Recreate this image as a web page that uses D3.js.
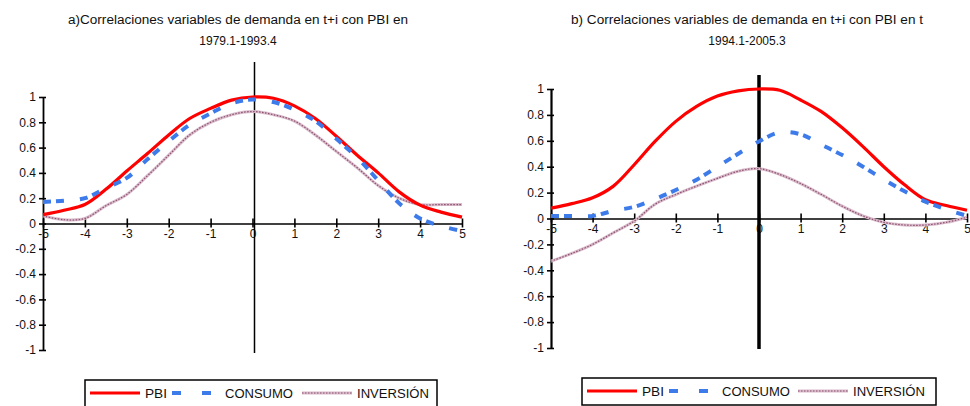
<!DOCTYPE html>
<html><head><meta charset="utf-8">
<script src="https://cdn.jsdelivr.net/npm/d3@7"></script>
<style>body{margin:0;background:#fff}svg{display:block}text{font-family:"Liberation Sans Narrow","Liberation Sans",Arial,sans-serif;fill:#111}</style>
</head><body><svg id="c" width="970" height="406"></svg>
<script>
const lags = [-5,-4.5,-4,-3.5,-3,-2.5,-2,-1.5,-1,-0.5,0,0.5,1,1.5,2,2.5,3,3.5,4,4.5,5];
const xTicks = [-5,-4,-3,-2,-1,0,1,2,3,4,5];
const yTicks = [1,0.8,0.6,0.4,0.2,0,-0.2,-0.4,-0.6,-0.8,-1];
const seriesNames = ["PBI","CONSUMO","INVERSIÓN"];

const titleA = ["a)Correlaciones variables de demanda en t+i con PBI en", "1979.1-1993.4"];
const pbiA       = [0.07,0.105,0.15,0.27,0.415,0.555,0.70,0.83,0.91,0.975,1.0,0.99,0.93,0.83,0.69,0.54,0.40,0.25,0.145,0.09,0.05];
const consumoA   = [0.17,0.18,0.20,0.28,0.36,0.51,0.65,0.78,0.87,0.95,0.98,0.96,0.90,0.81,0.67,0.52,0.34,0.16,0.04,-0.02,-0.06];
const inversionA = [0.06,0.03,0.04,0.14,0.23,0.38,0.54,0.70,0.80,0.86,0.885,0.86,0.81,0.70,0.57,0.44,0.30,0.20,0.15,0.15,0.15];

const titleB = ["b) Correlaciones variables de demanda en t+i con PBI en t", "1994.1-2005.3"];
const pbiB       = [0.08,0.115,0.16,0.25,0.415,0.595,0.75,0.865,0.945,0.985,1.0,0.99,0.915,0.825,0.70,0.555,0.40,0.26,0.145,0.10,0.064];
const consumoB   = [0.02,0.02,0.02,0.06,0.09,0.15,0.22,0.30,0.40,0.50,0.595,0.665,0.65,0.57,0.49,0.40,0.30,0.21,0.13,0.07,0.02];
const inversionB = [-0.33,-0.27,-0.2,-0.11,-0.02,0.11,0.185,0.25,0.31,0.365,0.385,0.34,0.27,0.185,0.095,0.02,-0.03,-0.05,-0.05,-0.03,0.01];

const svg = d3.select("#c");
svg.append("rect").attr("width",970).attr("height",406).attr("fill","#fff");
const fmt = d => String(d);

function panel(cfg){
  const g = svg.append("g");
  const x = d3.scaleLinear().domain([-5,5]).range([cfg.x0,cfg.x1]);
  const y = d3.scaleLinear().domain([-1,1]).range([cfg.yb,cfg.yt]);
  cfg.title.forEach((t,i)=>{
    const tt = g.append("text").attr("x",cfg.tc).attr("y",cfg.ty+i*21).attr("text-anchor","middle")
      .attr("font-size",12).text(t);
    if(i===0) tt.attr("textLength",cfg.tw).attr("lengthAdjust","spacingAndGlyphs");
  });
  const ya = g.append("g").attr("transform",`translate(${cfg.x0},0)`)
    .call(d3.axisLeft(y).tickValues(yTicks).tickFormat(fmt).tickSize(7).tickSizeOuter(0));
  ya.select(".domain").attr("stroke","#000").attr("stroke-width",cfg.yw);
  ya.selectAll(".tick line").attr("x2",3).attr("x1",-4).attr("stroke","#000").attr("stroke-width",1.6);
  ya.selectAll(".tick text").attr("x",-7).attr("font-size",12).attr("fill","#111")
    .attr("font-family",'"Liberation Sans",Arial,sans-serif');
  const xa = g.append("g").attr("transform",`translate(0,${y(0)})`)
    .call(d3.axisBottom(x).tickValues(xTicks).tickSize(4).tickSizeOuter(0).tickFormat(fmt));
  xa.select(".domain").attr("stroke","#000").attr("stroke-width",1.6);
  xa.selectAll(".tick line").attr("y1",-5).attr("y2",4).attr("stroke","#000").attr("stroke-width",1.6);
  xa.selectAll(".tick text").attr("y",cfg.xly).attr("dy",0).attr("font-size",12).attr("fill","#111")
    .attr("font-family",'"Liberation Sans",Arial,sans-serif');
  g.append("line").attr("x1",x(0)+cfg.zoff).attr("x2",x(0)+cfg.zoff).attr("y1",cfg.zt).attr("y2",cfg.zb)
    .attr("stroke","#000").attr("stroke-width",cfg.zw);
  const line = d3.line().x((d,i)=>x(lags[i])).y(d=>y(d)).curve(d3.curveCatmullRom.alpha(0.5));
  g.append("path").attr("d",line(cfg.inv)).attr("fill","none").attr("stroke","#d9bccb").attr("stroke-width",3);
  g.append("path").attr("d",line(cfg.inv)).attr("fill","none").attr("stroke","#8e4f70").attr("stroke-width",1.2).attr("stroke-dasharray","1.5,1.5");
  g.append("path").attr("d",line(cfg.pbi)).attr("fill","none").attr("stroke","#ff0000").attr("stroke-width",3.2);
  g.append("path").attr("d",line(cfg.con)).attr("fill","none").attr("stroke","#3d7bea").attr("stroke-width",4)
    .attr("stroke-dasharray","8,5,8,16");
  const L = g.append("g").attr("transform",`translate(${cfg.lx},${cfg.ly})`);
  L.append("rect").attr("x",0).attr("y",0).attr("width",cfg.lw).attr("height",27).attr("fill","#fff").attr("stroke","#000").attr("stroke-width",1.5);
  const ty = 16, fs = 12.5;
  const lf = '"Liberation Sans",Arial,sans-serif';
  L.append("line").attr("x1",5).attr("x2",55).attr("y1",ty-3).attr("y2",ty-3).attr("stroke","#ff0000").attr("stroke-width",3.2);
  L.append("text").attr("x",60).attr("y",ty+2).attr("font-size",fs).attr("font-family",lf).attr("textLength",22).attr("lengthAdjust","spacingAndGlyphs").text(seriesNames[0]);
  L.append("line").attr("x1",87).attr("x2",135).attr("y1",ty-3).attr("y2",ty-3).attr("stroke","#3d7bea").attr("stroke-width",4).attr("stroke-dasharray","9,21");
  L.append("text").attr("x",cfg.lcx).attr("y",ty+2).attr("font-size",fs).attr("font-family",lf).attr("textLength",68).attr("lengthAdjust","spacingAndGlyphs").text(seriesNames[1]);
  L.append("line").attr("x1",cfg.lix).attr("x2",cfg.lix+50).attr("y1",ty-3).attr("y2",ty-3).attr("stroke","#d9bccb").attr("stroke-width",3);
  L.append("line").attr("x1",cfg.lix).attr("x2",cfg.lix+50).attr("y1",ty-3).attr("y2",ty-3).attr("stroke","#8e4f70").attr("stroke-width",1.2).attr("stroke-dasharray","1.5,1.5");
  L.append("text").attr("x",cfg.lix+55).attr("y",ty+2).attr("font-size",fs).attr("font-family",lf).attr("textLength",72).attr("lengthAdjust","spacingAndGlyphs").text(seriesNames[2]);
}

panel({title:titleA,tc:238,ty:24,tw:340,x0:43,x1:462,yt:97,yb:350,yw:1.8,xly:14,zt:62,zb:353,zw:1.5,zoff:2,
  pbi:pbiA,con:consumoA,inv:inversionA,lx:85,ly:380,lw:352,lcx:140,lix:217});
panel({title:titleB,tc:747,ty:24,tw:352,x0:551,x1:967,yt:89,yb:348,yw:2.2,xly:14,zt:75,zb:349,zw:3.5,zoff:0,
  pbi:pbiB,con:consumoB,inv:inversionB,lx:582,ly:378,lw:354,lcx:140,lix:216});
</script></body></html>
